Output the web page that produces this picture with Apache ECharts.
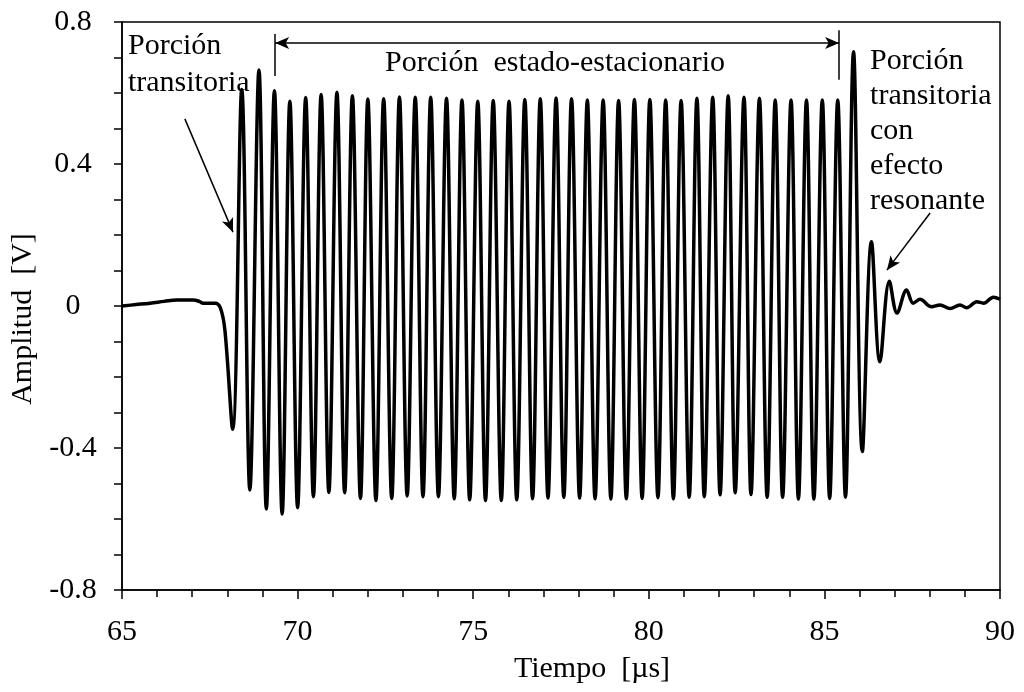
<!DOCTYPE html>
<html>
<head>
<meta charset="utf-8">
<title>Amplitud vs Tiempo</title>
<script src="https://cdn.jsdelivr.net/npm/echarts@6/dist/echarts.min.js"></script>
<style>
    html, body { margin: 0; padding: 0; background: #fff; }
    #main { width: 1024px; height: 692px; }
</style>
</head>
<body>
<div id="main"></div>
<script>
    var tiempo = [
        65.00, 65.40, 65.80, 66.20, 66.56, 67.03, 67.20, 67.31, 67.65, 67.80, 67.93,
        68.15, 68.41, 68.64, 68.90, 69.11, 69.34, 69.56, 69.78, 70.00, 70.23,
        70.45, 70.67, 70.89, 71.12, 71.34, 71.56, 71.79, 72.00, 72.23, 72.45,
        72.68, 72.90, 73.12, 73.35, 73.57, 73.79, 74.01, 74.24, 74.46, 74.68,
        74.90, 75.13, 75.35, 75.57, 75.80, 76.02, 76.24, 76.47, 76.69, 76.91,
        77.13, 77.36, 77.58, 77.80, 78.03, 78.25, 78.47, 78.70, 78.92, 79.14,
        79.36, 79.59, 79.81, 80.03, 80.26, 80.48, 80.70, 80.92, 81.15, 81.37,
        81.58, 81.82, 82.03, 82.26, 82.46, 82.71, 82.91, 83.15, 83.37, 83.60,
        83.81, 84.05, 84.26, 84.49, 84.70, 84.94, 85.15, 85.38, 85.60, 85.83,
        86.08, 86.34, 86.58, 86.85, 87.07, 87.34, 87.53, 87.72, 88.05, 88.29,
        88.58, 88.86, 89.05, 89.34, 89.53, 89.81, 90.00
    ];
    var amplitud = [
        0.000, 0.004, 0.008, 0.013, 0.017, 0.017, 0.013, 0.008, 0.008, -0.005, -0.068,
        -0.347, 0.610, -0.518, 0.665, -0.572, 0.606, -0.586, 0.577, -0.568, 0.587,
        -0.537, 0.596, -0.525, 0.602, -0.526, 0.592, -0.542, 0.583, -0.548, 0.584,
        -0.542, 0.589, -0.535, 0.588, -0.537, 0.588, -0.537, 0.585, -0.543, 0.580,
        -0.546, 0.577, -0.548, 0.579, -0.548, 0.577, -0.546, 0.582, -0.543, 0.584,
        -0.541, 0.586, -0.539, 0.584, -0.541, 0.580, -0.543, 0.580, -0.544, 0.579,
        -0.543, 0.582, -0.542, 0.582, -0.540, 0.580, -0.543, 0.579, -0.539, 0.585,
        -0.537, 0.588, -0.532, 0.592, -0.526, 0.588, -0.531, 0.585, -0.539, 0.580,
        -0.539, 0.580, -0.544, 0.580, -0.544, 0.580, -0.542, 0.580, -0.539, 0.716,
        -0.410, 0.181, -0.157, 0.070, -0.020, 0.045, 0.008, 0.019, -0.002, 0.003,
        -0.007, 0.003, -0.005, 0.012, 0.008, 0.025, 0.019
    ];

    // ejes: [min, max, intervalo]
    var ejeX = [65, 90, 5];
    var ejeY = [-0.8, 0.8, 0.4];

    // anotaciones (coordenadas de datos)
    var flechaIzq = [[66.79, 0.527], [68.16, 0.208]];
    var flechaDer = [[88.01, 0.262], [86.78, 0.101]];
    var cota = [[69.36, 0.741], [85.42, 0.741]];
    var cotaIzq = [[69.36, 0.766], [69.36, 0.648]];
    var cotaDer = [[85.42, 0.777], [85.42, 0.637]];
    var textos = [
        {texto: 'Porción\ntransitoria', t: 65.17, v: 0.785, alinear: 'left', interlinea: 37},
        {texto: 'Porción  estado-estacionario', t: 77.33, v: 0.737, alinear: 'center', interlinea: 37},
        {texto: 'Porción\ntransitoria\ncon\nefecto\nresonante', t: 86.30, v: 0.739, alinear: 'left', interlinea: 35}
    ];

    var fuente = '"Liberation Serif", "Times New Roman", serif';

    var datos = [];
    for (var i = 0; i < tiempo.length; i++) {
        datos.push([tiempo[i], amplitud[i]]);
    }

    function tramo(a, b, s0, s1) {
        return [{coord: a, symbol: s0}, {coord: b, symbol: s1}];
    }

    var chart = echarts.init(document.getElementById('main'));
    chart.setOption({
        animation: false,
        backgroundColor: '#fff',
        grid: {
            left: 122, right: 24, top: 22, bottom: 102,
            show: true, borderColor: '#000', borderWidth: 1.5
        },
        xAxis: {
            type: 'value', min: ejeX[0], max: ejeX[1], interval: ejeX[2],
            name: 'Tiempo  [µs]', nameLocation: 'middle', nameGap: 64,
            nameTextStyle: {fontFamily: fuente, fontSize: 30, color: '#000', padding: [0, 0, 0, 62]},
            axisLine: {show: true, onZero: false, lineStyle: {color: '#000', width: 1.5}},
            axisTick: {show: true, length: 9, lineStyle: {color: '#000', width: 1.5}},
            minorTick: {show: true, splitNumber: 5, length: 7, lineStyle: {color: '#000', width: 1.5}},
            axisLabel: {fontFamily: fuente, fontSize: 30, color: '#000', margin: 27},
            splitLine: {show: false}
        },
        yAxis: {
            type: 'value', min: ejeY[0], max: ejeY[1], interval: ejeY[2],
            name: 'Amplitud  [V]', nameLocation: 'middle', nameGap: 74,
            nameTextStyle: {fontFamily: fuente, fontSize: 30, color: '#000', padding: [0, 26, 0, 0]},
            axisLine: {show: true, onZero: false, lineStyle: {color: '#000', width: 1.5}},
            axisTick: {show: true, length: 8, lineStyle: {color: '#000', width: 1.5}},
            minorTick: {show: true, splitNumber: 4, length: 8, lineStyle: {color: '#000', width: 1.5}},
            axisLabel: {
                fontFamily: fuente, fontSize: 30, color: '#000', margin: 49, align: 'center',
                formatter: function (v) {
                    return Math.abs(v) < 1e-9 ? '0' : v.toFixed(1);
                }
            },
            splitLine: {show: false}
        },
        series: [{
            type: 'line',
            data: datos,
            smooth: 0.36,
            showSymbol: false,
            silent: true,
            lineStyle: {color: '#000', width: 3.5},
            markLine: {
                silent: true,
                animation: false,
                symbolSize: [9, 14],
                label: {show: false},
                lineStyle: {color: '#000', width: 1.5, type: 'solid'},
                emphasis: {disabled: true},
                data: [
                    tramo(flechaIzq[0], flechaIzq[1], 'none', 'arrow'),
                    tramo(flechaDer[0], flechaDer[1], 'none', 'arrow'),
                    tramo(cota[0], cota[1], 'arrow', 'arrow'),
                    tramo(cotaIzq[0], cotaIzq[1], 'none', 'none'),
                    tramo(cotaDer[0], cotaDer[1], 'none', 'none')
                ]
            }
        }]
    });

    // textos de las anotaciones, colocados a partir de coordenadas de datos
    var graficos = textos.map(function (a) {
        var p = chart.convertToPixel({gridIndex: 0}, [a.t, a.v]);
        return {
            type: 'text', x: p[0], y: p[1], silent: true,
            style: {
                text: a.texto, fontFamily: fuente, fontSize: 30, fill: '#000',
                align: a.alinear, verticalAlign: 'top', lineHeight: a.interlinea
            }
        };
    });
    chart.setOption({graphic: graficos});
</script>
</body>
</html>
